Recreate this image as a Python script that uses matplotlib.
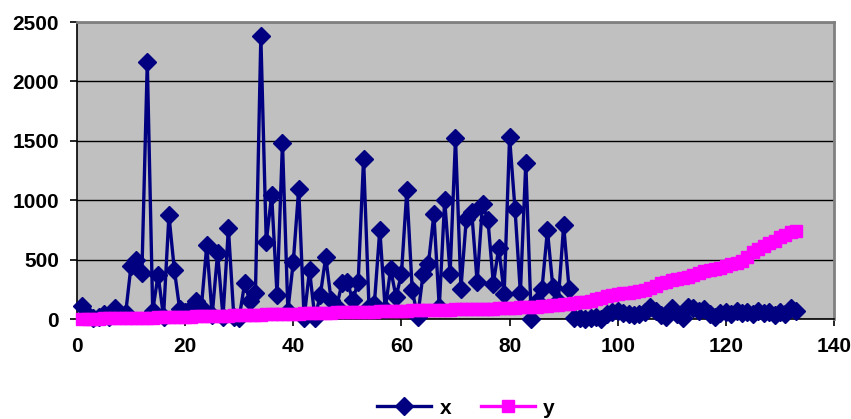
import matplotlib
matplotlib.use("Agg")
import matplotlib.pyplot as plt

idx = list(range(1, 134))

x_vals = [110, 30, 10, 20, 40, 20, 90, 40, 50, 450,
          500, 385, 2165, 70, 370, 20, 873, 415, 80, 60,
          90, 150, 100, 620, 30, 553, 20, 763, 20, 10,
          300, 150, 216, 2380, 650, 1042, 200, 1485, 70, 480,
          1095, 5, 410, 10, 200, 522, 157, 100, 300, 312,
          157, 312, 1351, 100, 130, 753, 80, 420, 185, 377,
          1084, 242, 15, 377, 466, 882, 100, 1000, 382, 1520,
          256, 845, 900, 312, 972, 831, 298, 600, 214, 1528,
          930, 219, 1314, 3, 150, 256, 747, 270, 150, 789,
          256, 5, 10, 0, 5, 20, 0, 40, 60, 70,
          50, 40, 30, 45, 60, 100, 70, 30, 20, 95,
          40, 10, 100, 90, 70, 80, 40, 15, 50, 60,
          40, 70, 50, 60, 40, 70, 50, 60, 30, 60,
          40, 95, 70]

y_vals = [2, 3, 3, 4, 5, 5, 6, 7, 7, 8,
          9, 10, 11, 12, 13, 14, 15, 17, 18, 20,
          21, 22, 23, 24, 25, 27, 28, 29, 30, 32,
          33, 34, 35, 37, 38, 39, 41, 42, 43, 45,
          46, 47, 48, 50, 51, 52, 53, 55, 56, 58,
          59, 60, 61, 62, 63, 65, 66, 67, 68, 70,
          71, 72, 73, 74, 75, 76, 77, 78, 79, 80,
          81, 82, 83, 85, 86, 87, 88, 90, 92, 94,
          96, 98, 100, 103, 105, 108, 111, 115, 119, 124,
          128, 133, 140, 147, 155, 165, 180, 192, 200, 210,
          215, 222, 230, 238, 245, 262, 280, 300, 315, 326,
          335, 345, 355, 370, 385, 400, 410, 420, 430, 445,
          460, 475, 490, 520, 560, 590, 615, 640, 660, 690,
          710, 730, 740]

x_ticks = [0, 20, 40, 60, 80, 100, 120, 140]
y_ticks = [0, 500, 1000, 1500, 2000, 2500]

plt.rcParams['font.family'] = ['Liberation Sans', 'DejaVu Sans']

fig = plt.figure(figsize=(8.51, 4.19), dpi=100)
ax = fig.add_axes([77/851, 1 - 319/419, (834-77)/851, (319-22)/419])
ax.set_facecolor('#C0C0C0')

ax.plot(idx, x_vals, color='#000080', lw=2.4, marker='D', ms=9,
        mfc='#000080', mec='#000080', label='x', clip_on=False, zorder=3)
ax.plot(idx, y_vals, color='#FF00FF', lw=2.4, marker='s', ms=9,
        mfc='#FF00FF', mec='#FF00FF', label='y', clip_on=False, zorder=4)

ax.set_xlim(0, 140)
ax.set_ylim(0, 2500)
ax.set_xticks(x_ticks)
ax.set_yticks(y_ticks)
ax.yaxis.grid(True, color='black', lw=1)
ax.set_axisbelow(True)

for s in ['top', 'right']:
    ax.spines[s].set_color('#808080')
    ax.spines[s].set_linewidth(2)
for s in ['left', 'bottom']:
    ax.spines[s].set_color('black')
    ax.spines[s].set_linewidth(1.2)

ax.tick_params(axis='both', direction='out', length=5, width=1.2,
               labelsize=15, colors='black')
ax.tick_params(axis='x', pad=8)
ax.tick_params(axis='y', pad=8)
for lab in ax.get_xticklabels() + ax.get_yticklabels():
    lab.set_fontweight('bold')

leg = fig.legend(loc='center', bbox_to_anchor=(466/851, 1 - 408/419),
                 ncol=2, frameon=False, prop={'size': 15, 'weight': 'bold'},
                 handlelength=2.6, columnspacing=1.4, handletextpad=0.4)

fig.savefig('out.png', dpi=100)
